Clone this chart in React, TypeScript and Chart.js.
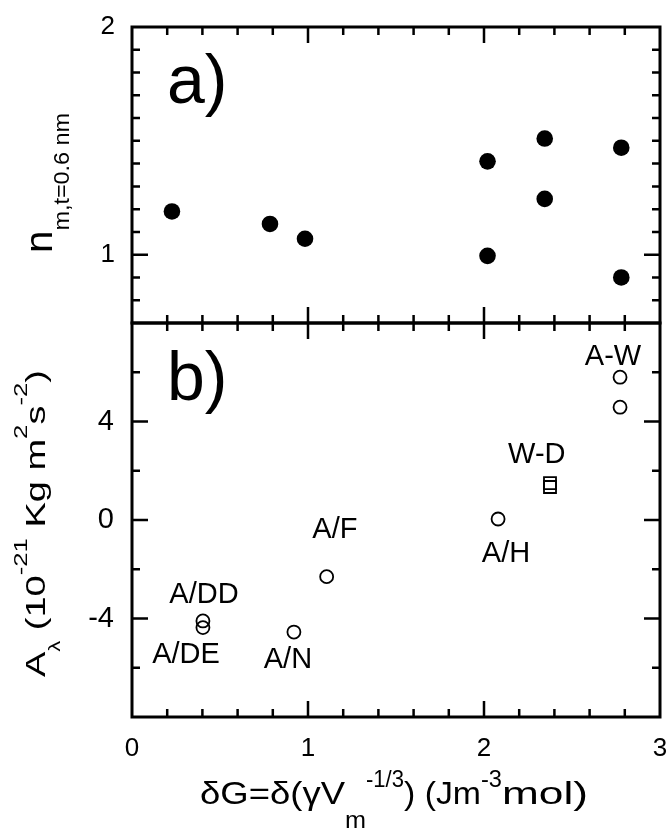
import React, { useEffect, useRef } from 'react';
import { Chart, registerables } from 'chart.js';

Chart.register(...registerables);

const FONT = '"Liberation Sans", Arial, Helvetica, sans-serif';

// ---- Panel a) : n_{m,t=0.6 nm} (filled circles)
const nX = [0.227, 0.784, 0.983, 2.02, 2.02, 2.345, 2.345, 2.78, 2.78];
const nY = [1.19, 1.135, 1.07, 1.41, 0.995, 1.51, 1.245, 1.47, 0.9];

// ---- Panel b) : A_lambda (open circles)
const aX = [0.403, 0.403, 0.92, 1.106, 2.08, 2.773, 2.773];
const aY = [-4.1, -4.37, -4.55, -2.3, 0.04, 5.8, 4.58];

// ---- Panel b) : W-D (open squares)
const sqX = [2.375, 2.375];
const sqY = [1.5, 1.34];

// ---- Point annotations (text, x centre, baseline y in panel b units)
const labelText = ['A-W', 'W-D', 'A/H', 'A/F', 'A/DD', 'A/DE', 'A/N'];
const labelX = [2.733, 2.3, 2.125, 1.153, 0.409, 0.307, 0.886];
const labelY = [6.29, 2.31, -1.71, -0.73, -3.37, -5.81, -6.01];

// ---- Tick labels
const xTicks = [0, 1, 2, 3];
const yATicks = [1, 2];
const yBTicks = [-4, 0, 4];

// size, baseline shift, advance width
type Seg = { t: string; size: number; dy: number; w?: number };

function segAdvance(ctx: CanvasRenderingContext2D, s: Seg) {
  ctx.font = `${s.size}px ${FONT}`;
  return s.w !== undefined ? s.w : ctx.measureText(s.t).width;
}

function drawRich(
  ctx: CanvasRenderingContext2D,
  segs: Seg[],
  x: number,
  y: number,
  angle: number,
  targetLen?: number
) {
  let w = 0;
  for (const s of segs) w += segAdvance(ctx, s);
  const sx = targetLen ? targetLen / w : 1;
  ctx.save();
  ctx.translate(x, y);
  ctx.rotate(angle);
  ctx.scale(sx, 1);
  ctx.fillStyle = '#000';
  ctx.textAlign = 'left';
  ctx.textBaseline = 'alphabetic';
  let cx = -w / 2;
  for (const s of segs) {
    ctx.font = `${s.size}px ${FONT}`;
    const natural = ctx.measureText(s.t).width;
    const adv = s.w !== undefined ? s.w : natural;
    ctx.save();
    ctx.translate(cx, s.dy);
    ctx.scale(adv / natural, 1);
    ctx.fillText(s.t, 0, 0);
    ctx.restore();
    cx += adv;
  }
  ctx.restore();
}

const framePlugin = {
  id: 'frameTicks',
  afterDatasetsDraw(chart: any) {
    const ctx: CanvasRenderingContext2D = chart.ctx;
    const xs = chart.scales.x;
    const L = xs.left;
    const R = xs.right;
    const panels = [
      { s: chart.scales.yA, minor: 0.1, major: 1 },
      { s: chart.scales.yB, minor: 2, major: 4 },
    ];
    const isMajor = (v: number, m: number) => Math.abs(v / m - Math.round(v / m)) < 1e-6;
    ctx.save();
    ctx.strokeStyle = '#000';
    ctx.lineCap = 'butt';
    for (const p of panels) {
      const T = p.s.top;
      const B = p.s.bottom;
      ctx.lineWidth = 2.5;
      const n = Math.round((p.s.max - p.s.min) / p.minor);
      for (let i = 1; i < n; i++) {
        const v = p.s.min + i * p.minor;
        const py = p.s.getPixelForValue(v);
        const len = isMajor(v, p.major) ? 16 : 8;
        ctx.beginPath();
        ctx.moveTo(L, py);
        ctx.lineTo(L + len, py);
        ctx.moveTo(R, py);
        ctx.lineTo(R - len, py);
        ctx.stroke();
      }
      const nx = Math.round((xs.max - xs.min) / 0.2);
      for (let i = 1; i < nx; i++) {
        const v = xs.min + i * 0.2;
        const px = xs.getPixelForValue(v);
        const len = isMajor(v, 1) ? 16 : 8;
        ctx.beginPath();
        ctx.moveTo(px, T);
        ctx.lineTo(px, T + len);
        ctx.moveTo(px, B);
        ctx.lineTo(px, B - len);
        ctx.stroke();
      }
      ctx.lineWidth = 3;
      ctx.strokeRect(L, T, R - L, B - T);
    }
    ctx.restore();
  },
};

const textPlugin = {
  id: 'texts',
  afterDraw(chart: any) {
    const ctx: CanvasRenderingContext2D = chart.ctx;
    const xs = chart.scales.x;
    const ya = chart.scales.yA;
    const yb = chart.scales.yB;
    const area = chart.chartArea;
    const L = area.left;
    const R = area.right;
    ctx.save();
    ctx.fillStyle = '#000';

    ctx.font = `29px ${FONT}`;
    ctx.textAlign = 'center';
    ctx.textBaseline = 'alphabetic';
    for (let i = 0; i < labelText.length; i++) {
      ctx.fillText(labelText[i], xs.getPixelForValue(labelX[i]), yb.getPixelForValue(labelY[i]));
    }

    ctx.font = `68px ${FONT}`;
    ctx.textAlign = 'left';
    ctx.fillText('a)', L + 35, ya.top + 76);
    ctx.fillText('b)', L + 35, yb.top + 77);
    ctx.restore();

    // x title
    drawRich(
      ctx,
      [
        { t: 'δG=δ(γV', size: 32, dy: 0, w: 145 },
        { t: 'm', size: 24, dy: 24, w: 21 },
        { t: '-1/3', size: 24, dy: -17, w: 38 },
        { t: ') (Jm', size: 32, dy: 0, w: 77 },
        { t: '-3', size: 24, dy: -17, w: 21 },
        { t: 'mol)', size: 32, dy: 0, w: 86 },
      ],
      (L + R) / 2 - 2,
      area.bottom + 87,
      0
    );

    // y title, panel a
    drawRich(
      ctx,
      [
        { t: 'n', size: 38, dy: 0 },
        { t: 'm,t=0.6 nm', size: 22, dy: 17 },
      ],
      52,
      (ya.top + ya.bottom) / 2 + 8,
      -Math.PI / 2,
      140
    );

    // y title, panel b
    drawRich(
      ctx,
      [
        { t: 'A', size: 28, dy: 0 },
        { t: 'λ', size: 16, dy: 15 },
        { t: ' (10', size: 28, dy: 0 },
        { t: '-21', size: 19, dy: -18 },
        { t: ' Kg m', size: 28, dy: 0 },
        { t: '2', size: 19, dy: -18 },
        { t: 's', size: 28, dy: 0 },
        { t: '-2', size: 19, dy: -18 },
        { t: ')', size: 28, dy: 0 },
      ],
      45,
      (yb.top + yb.bottom) / 2 + 3.5,
      -Math.PI / 2,
      307
    );
  },
};

const zeroPad = (s: any) => {
  s.paddingTop = 0;
  s.paddingBottom = 0;
  s.paddingLeft = 0;
  s.paddingRight = 0;
};

export default function App() {
  const ref = useRef<HTMLCanvasElement | null>(null);

  useEffect(() => {
    if (!ref.current) return;
    const chart = new Chart(ref.current, {
      type: 'scatter',
      data: {
        datasets: [
          {
            label: 'n',
            data: nX.map((x, i) => ({ x, y: nY[i] })),
            yAxisID: 'yA',
            pointRadius: 8.3,
            pointBackgroundColor: '#000',
            pointBorderColor: '#000',
            pointBorderWidth: 0,
          },
          {
            label: 'A',
            data: aX.map((x, i) => ({ x, y: aY[i] })),
            yAxisID: 'yB',
            pointRadius: 6.5,
            pointBackgroundColor: 'rgba(0,0,0,0)',
            pointBorderColor: '#000',
            pointBorderWidth: 1.8,
          },
          {
            label: 'WD',
            data: sqX.map((x, i) => ({ x, y: sqY[i] })),
            yAxisID: 'yB',
            pointStyle: 'rect',
            pointRadius: 8.5,
            pointBackgroundColor: 'rgba(0,0,0,0)',
            pointBorderColor: '#000',
            pointBorderWidth: 1.8,
          },
        ],
      },
      options: {
        animation: false,
        responsive: false,
        devicePixelRatio: 1,
        layout: { padding: { top: 27, right: 11, left: 0, bottom: 0 } },
        plugins: { legend: { display: false }, tooltip: { enabled: false } },
        scales: {
          x: {
            type: 'linear',
            min: 0,
            max: 3,
            position: 'bottom',
            grid: { display: false, drawTicks: false },
            border: { display: false },
            afterBuildTicks: (s: any) => {
              s.ticks = xTicks.map((v) => ({ value: v }));
            },
            afterFit: (s: any) => {
              s.height = 113;
              zeroPad(s);
            },
            ticks: {
              font: { family: FONT, size: 26 },
              color: '#000',
              padding: 16,
              maxRotation: 0,
              autoSkip: false,
              callback: (v: any) => String(v),
            },
          },
          yB: {
            type: 'linear',
            min: -8,
            max: 8,
            position: 'left',
            stack: 'v',
            stackWeight: 394,
            grid: { display: false, drawTicks: false },
            border: { display: false },
            afterBuildTicks: (s: any) => {
              s.ticks = yBTicks.map((v) => ({ value: v }));
            },
            afterFit: (s: any) => {
              s.width = 132;
              zeroPad(s);
            },
            ticks: {
              font: { family: FONT, size: 29 },
              color: '#000',
              padding: 18,
              autoSkip: false,
              callback: (v: any) => String(v),
            },
          },
          yA: {
            type: 'linear',
            min: 0.7,
            max: 2,
            position: 'left',
            stack: 'v',
            stackWeight: 296,
            grid: { display: false, drawTicks: false },
            border: { display: false },
            afterBuildTicks: (s: any) => {
              s.ticks = yATicks.map((v) => ({ value: v }));
            },
            afterFit: (s: any) => {
              s.width = 132;
              zeroPad(s);
            },
            ticks: {
              font: { family: FONT, size: 26 },
              color: '#000',
              padding: 17,
              autoSkip: false,
              callback: (v: any) => String(v),
            },
          },
        },
      },
      plugins: [framePlugin, textPlugin],
    } as any);
    return () => chart.destroy();
  }, []);

  return (
    <div style={{ position: 'absolute', left: 0, top: 0, width: 671, height: 830, background: '#fff' }}>
      <canvas ref={ref} width={671} height={830} style={{ display: 'block' }} />
    </div>
  );
}
